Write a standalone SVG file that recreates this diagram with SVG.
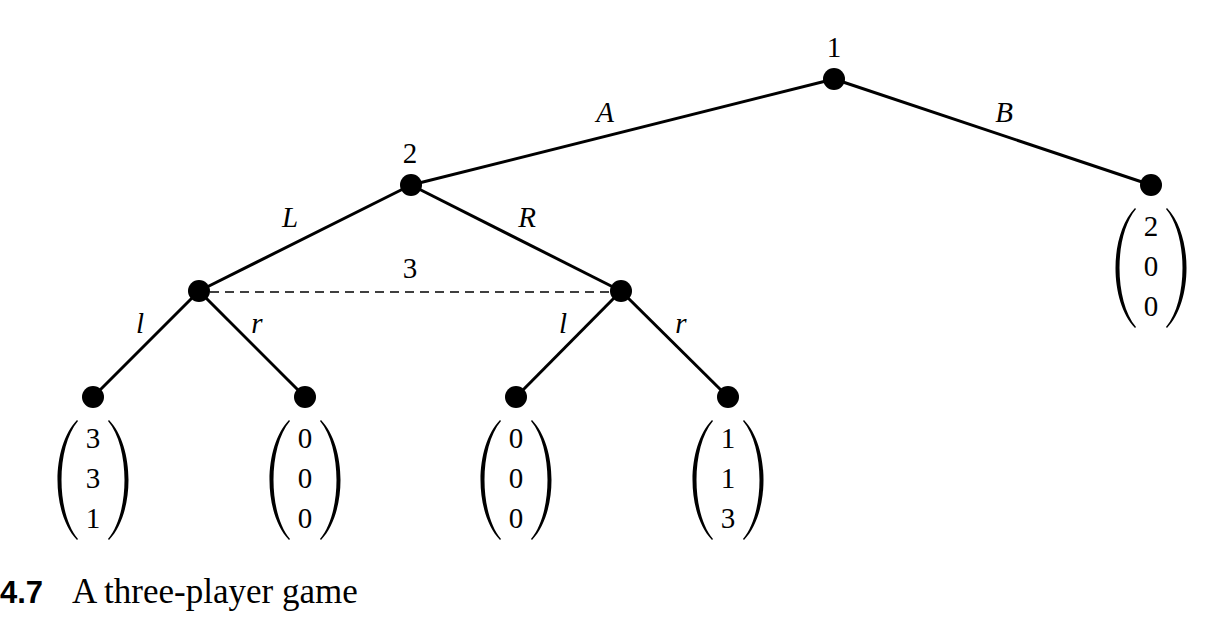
<svg xmlns="http://www.w3.org/2000/svg" width="1231" height="619" viewBox="0 0 1231 619">
<defs>
<style>
.edge{stroke:#000;stroke-width:3;fill:none}
.dash{stroke:#000;stroke-width:1.4;fill:none;stroke-dasharray:9 6}
.dot{fill:#000}
.par{fill:#000}
text{font-family:"Liberation Serif",serif;fill:#000}
.num{font-size:29px;text-anchor:middle}
.it{font-size:29px;font-style:italic;text-anchor:middle}
.cap{font-size:35px}
.capb{font-family:"Liberation Sans",sans-serif;font-size:31px;font-weight:bold}
</style>
<path id="lp" d="M-16,23 C-42,50 -42,116 -16,143 L-15,142 C-37,116 -37,50 -15,24 Z"/>
<path id="rp" d="M16,23 C42,50 42,116 16,143 L15,142 C37,116 37,50 15,24 Z"/>
</defs>
<rect width="1231" height="619" fill="#fff"/>
<g id="connectors">
<line class="edge" x1="834" y1="79" x2="411" y2="185"/>
<line class="edge" x1="834" y1="79" x2="1151" y2="185"/>
<line class="edge" x1="411" y1="185" x2="199" y2="291"/>
<line class="edge" x1="411" y1="185" x2="621" y2="291"/>
<line class="edge" x1="199" y1="291" x2="93" y2="397"/>
<line class="edge" x1="199" y1="291" x2="305" y2="397"/>
<line class="edge" x1="621" y1="291" x2="516" y2="397"/>
<line class="edge" x1="621" y1="291" x2="728" y2="397"/>
<line class="dash" x1="210" y1="292" x2="610" y2="292"/>
<text class="it" x="605" y="122">A</text>
<text class="it" x="1004" y="122">B</text>
<text class="it" x="290" y="227">L</text>
<text class="it" x="527" y="227">R</text>
<text class="num" x="410" y="278">3</text>
<text class="it" x="140" y="333">l</text>
<text class="it" x="257" y="333">r</text>
<text class="it" x="563" y="333">l</text>
<text class="it" x="681" y="333">r</text>
</g>
<g id="n1"><circle class="dot" cx="834" cy="79" r="11"/><text class="num" x="834" y="57">1</text></g>
<g id="n2"><circle class="dot" cx="411" cy="185" r="11"/><text class="num" x="410" y="163">2</text></g>
<g id="n3a"><circle class="dot" cx="199" cy="291" r="11"/></g>
<g id="n3b"><circle class="dot" cx="621" cy="291" r="11"/></g>
<g id="leafB" transform="translate(1151,185)"><circle class="dot" r="11"/><use href="#lp" class="par"/><use href="#rp" class="par"/><text class="num" y="51">2</text><text class="num" y="91">0</text><text class="num" y="131">0</text></g>
<g id="leafLl" transform="translate(93,397)"><circle class="dot" r="11"/><use href="#lp" class="par"/><use href="#rp" class="par"/><text class="num" y="51">3</text><text class="num" y="91">3</text><text class="num" y="131">1</text></g>
<g id="leafLr" transform="translate(305,397)"><circle class="dot" r="11"/><use href="#lp" class="par"/><use href="#rp" class="par"/><text class="num" y="51">0</text><text class="num" y="91">0</text><text class="num" y="131">0</text></g>
<g id="leafRl" transform="translate(516,397)"><circle class="dot" r="11"/><use href="#lp" class="par"/><use href="#rp" class="par"/><text class="num" y="51">0</text><text class="num" y="91">0</text><text class="num" y="131">0</text></g>
<g id="leafRr" transform="translate(728,397)"><circle class="dot" r="11"/><use href="#lp" class="par"/><use href="#rp" class="par"/><text class="num" y="51">1</text><text class="num" y="91">1</text><text class="num" y="131">3</text></g>
<g id="caption"><text class="capb" x="43" y="603" text-anchor="end">4.7</text><text class="cap" x="72" y="603">A three-player game</text></g>
</svg>
